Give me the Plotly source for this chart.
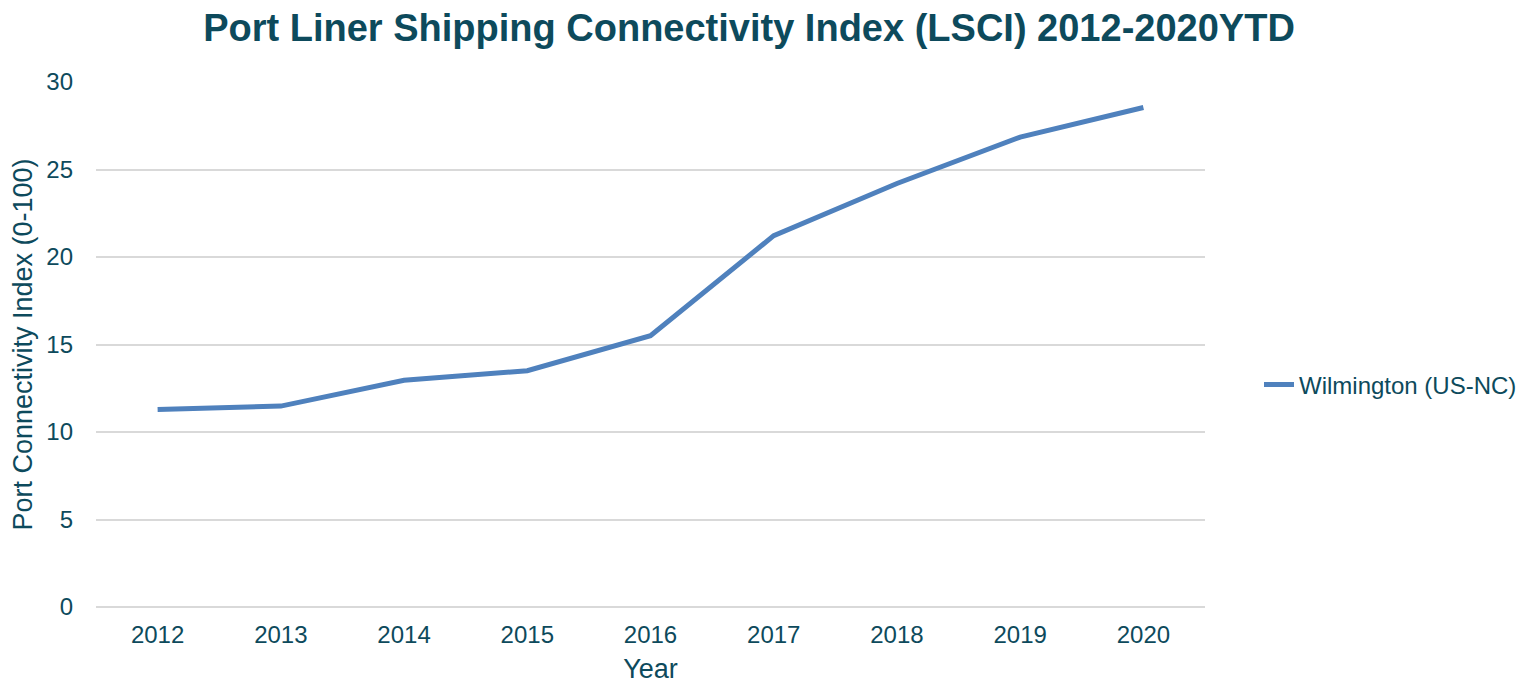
import plotly.graph_objects as go

years = ["2012", "2013", "2014", "2015", "2016", "2017", "2018", "2019", "2020"]
wilmington = [11.28, 11.48, 12.96, 13.5, 15.5, 21.22, 24.2, 26.85, 28.54]
y_ticks = [0, 5, 10, 15, 20, 25, 30]

TEXT = "#0D4A5C"
FONT = "Liberation Sans, Arial, sans-serif"
W, H = 1527, 676

fig = go.Figure()
fig.add_trace(go.Scatter(
    x=years, y=wilmington, mode="lines", name="Wilmington (US-NC)",
    line=dict(color="#4F81BD", width=5),
))

fig.update_layout(
    width=W, height=H,
    paper_bgcolor="white", plot_bgcolor="white",
    margin=dict(l=88, r=330, t=74, b=77, autoexpand=False),
    font=dict(family=FONT, color=TEXT, size=24),
    title=dict(text="<b>Port Liner Shipping Connectivity Index (LSCI) 2012-2020YTD</b>",
               x=741 / W, xanchor="center", xref="container",
               y=1 - 20 / H, yanchor="middle", yref="container",
               font=dict(size=38, color=TEXT, family=FONT)),
    xaxis=dict(type="category", range=[-0.5, 8.5], showgrid=False, showline=False,
               ticks="", tickfont=dict(size=24, color=TEXT), automargin=False,
               ticklabelstandoff=11,
               title=dict(text="Year", font=dict(size=27, color=TEXT), standoff=17)),
    yaxis=dict(range=[0, 30], tickvals=y_ticks, showgrid=True, gridcolor="#D9D9D9",
               gridwidth=2, zeroline=True, zerolinecolor="#D9D9D9", zerolinewidth=2,
               showline=False, ticks="", ticklabelstandoff=22, automargin=False,
               tickfont=dict(size=24, color=TEXT),
               title=dict(text="Port Connectivity Index (0-100)", font=dict(size=27, color=TEXT), standoff=14)),
    legend=dict(x=1251 / W, xref="container", xanchor="left",
                y=1 - 377 / H, yref="container", yanchor="middle",
                font=dict(size=24, color=TEXT), bgcolor="rgba(0,0,0,0)"),
    showlegend=True,
)

fig.write_html("out.html")
